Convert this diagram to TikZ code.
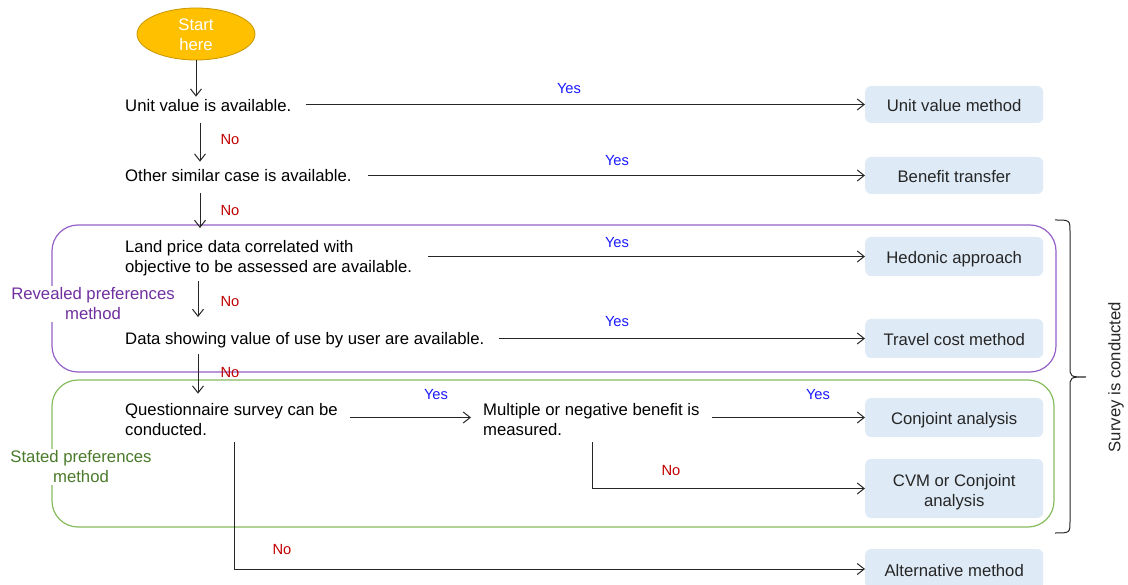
\documentclass[tikz,border=0pt]{standalone}
\usepackage{fontspec}
\setmainfont{Liberation Sans}
\usetikzlibrary{arrows.meta,shapes.geometric}
\definecolor{boxfill}{HTML}{DEEAF6}
\definecolor{startfill}{HTML}{FFC000}
\definecolor{startdraw}{HTML}{C89600}
\definecolor{revcol}{HTML}{7030A0}
\definecolor{revline}{HTML}{9460C8}
\definecolor{statcol}{HTML}{4A7A2A}
\definecolor{statline}{HTML}{86BC5C}
\definecolor{yescol}{HTML}{1A1AFF}
\definecolor{nocol}{HTML}{C00000}
\definecolor{linecol}{HTML}{262626}
\begin{document}
\begin{tikzpicture}[x=1pt,y=-1pt,
  font=\fontsize{16.7}{20}\selectfont,
  txt/.style={anchor=west,align=left,inner sep=0pt,text=black},
  method/.style={fill=boxfill,rounded corners=6pt,minimum width=178pt,minimum height=39pt,align=center,inner sep=2pt,anchor=west,text=linecol},
  smethod/.style={method,text height=15pt,text depth=0.5pt},
  arr/.style={draw=linecol,line width=1pt,-{Straight Barb[length=7pt,width=11pt]}},
  yes/.style={text=yescol,font=\fontsize{14.7}{17}\selectfont,inner sep=0pt},
  no/.style={text=nocol,font=\fontsize{14.7}{17}\selectfont,inner sep=0pt},
  grouplabel/.style={fill=white,align=center,inner sep=2pt},
]
\useasboundingbox (0,0) rectangle (1128,585);

% group frames
\draw[revline, line width=1.2pt, rounded corners=26pt] (52,225) rectangle (1056,372);
\draw[statline, line width=1.2pt, rounded corners=26pt] (52,380) rectangle (1054,527);
\node[grouplabel,text=revcol] (rev) at (93,304) {Revealed preferences\\method};
\node[grouplabel,text=statcol] (stat) at (81,467) {Stated preferences\\method};

% start
\node[ellipse, fill=startfill, draw=startdraw, line width=0.8pt, minimum width=118pt, minimum height=52pt, text=white, align=center, inner sep=0pt, text height=34pt, text depth=0pt] (start) at (196,34) {Start\\here};

% questions
\node[txt] (q1) at (125,106) {Unit value is available.};
\node[txt] (q2) at (125,176) {Other similar case is available.};
\node[txt] (q3) at (125,258) {Land price data correlated with\\objective to be assessed are available.};
\node[txt] (q4) at (125,340) {Data showing value of use by user are available.};
\node[txt] (q5) at (125,420) {Questionnaire survey can be\\conducted.};
\node[txt] (q6) at (483,420) {Multiple or negative benefit is\\measured.};

% methods
\node[smethod,minimum height=37pt] (m1) at (865,104.5) {Unit value method};
\node[smethod,minimum height=37pt] (m2) at (865,175.5) {Benefit transfer};
\node[smethod] (m3) at (865,256.5) {Hedonic approach};
\node[smethod] (m4) at (865,338.5) {Travel cost method};
\node[smethod] (m5) at (865,417.5) {Conjoint analysis};
\node[method,minimum height=59pt,text height=39pt,text depth=3.5pt] (m6) at (865,488.5) {CVM or Conjoint\\analysis};
\node[smethod,minimum height=40pt] (m7) at (865,569) {Alternative method};

% down arrows
\draw[arr] (start.south) -- ([shift={(0,-3)}]start.south |- q1.north);
\draw[arr] ([shift={(75,11)}]q1.south west) -- ([shift={(75,-8)}]q2.north west);
\draw[arr] ([shift={(75,11)}]q2.south west) -- ([shift={(75,-12)}]q3.north west);
\draw[arr] ([shift={(73,5)}]q3.south west) -- ([shift={(73,-15)}]q4.north west);
\draw[arr] ([shift={(73,6)}]q4.south west) -- ([shift={(73,-10)}]q5.north west);

% yes arrows
\draw[arr] ([shift={(14,0)}]q1.east |- m1.west) -- (m1.west);
\draw[arr] ([shift={(16,0)}]q2.east |- m2.west) -- (m2.west);
\draw[arr] ([shift={(16,0)}]q3.east |- m3.west) -- (m3.west);
\draw[arr] ([shift={(14,0)}]q4.east |- m4.west) -- (m4.west);
\draw[arr] ([shift={(12,0)}]q5.east |- m5.west) -- ([shift={(-12,0)}]q6.west |- m5.west);
\draw[arr] ([shift={(12,0)}]q6.east |- m5.west) -- (m5.west);

% no branches
\draw[arr] ([shift={(109,6)}]q6.south west) |- (m6.west);
\draw[arr] ([shift={(109,6)}]q5.south west) |- (m7.west);

% labels
\node[yes] (y1) at (569,89) {Yes};
\node[yes] (y2) at (617,161) {Yes};
\node[yes] (y3) at (617,243) {Yes};
\node[yes] (y4) at (617,322) {Yes};
\node[yes] (y5) at (436,395) {Yes};
\node[yes] (y6) at (818,395) {Yes};
\node[no] (n1) at (230,139.5) {No};
\node[no] (n2) at (230,210.5) {No};
\node[no] (n3) at (230,301.5) {No};
\node[no] (n4) at (230,372.5) {No};
\node[no] (n5) at (671,470.5) {No};
\node[no] (n6) at (282,549.5) {No};

% brace
\draw[linecol, line width=1pt] (1055,220) .. controls (1070,220) .. (1070,232) -- (1070,366) .. controls (1070,377) .. (1086,377) .. controls (1070,377) .. (1070,388) -- (1070,521) .. controls (1070,533) .. (1055,533);
\node[rotate=90, text=linecol] (survey) at (1116,377) {Survey is conducted};
\end{tikzpicture}
\end{document}
